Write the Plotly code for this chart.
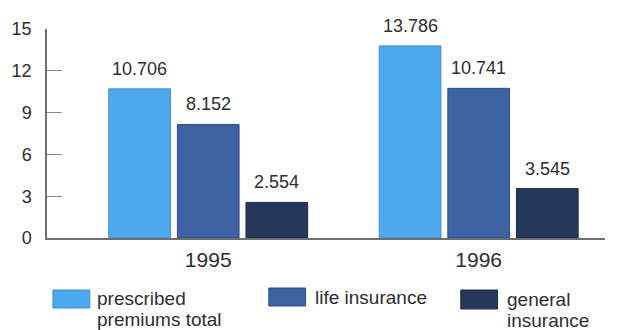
import plotly.graph_objects as go

# Premiums by year (values shown above each bar)
years = ["1995", "1996"]
series_names = ["prescribed premiums total", "life insurance", "general insurance"]
legend_lines = [["prescribed", "premiums total"], ["life insurance"], ["general", "insurance"]]
prescribed_total = [10.706, 13.786]
life_insurance = [8.152, 10.741]
general_insurance = [2.554, 3.545]
y_ticks = [0, 3, 6, 9, 12, 15]

series_values = [prescribed_total, life_insurance, general_insurance]
colors = ["#4ca9ee", "#3c62a2", "#26385a"]
edge_colors = ["#3f8fcc", "#2f4f85", "#1c2a44"]

FONT = "Liberation Sans, Arial, Helvetica, sans-serif"
TEXT = "#2e2e2e"

W, H = 621, 330
L, R, T, B = 44, 16, 29, 92
plot_w = W - L - R
plot_h = H - T - B

BARGAP = 0.239
GROUPGAP = 0.101

fig = go.Figure()
for name, vals, c, ec in zip(series_names, series_values, colors, edge_colors):
    fig.add_trace(go.Bar(
        x=years, y=vals, name=name,
        marker=dict(color=c, line=dict(color=ec, width=1)),
        showlegend=False, hoverinfo="x+y+name",
    ))

# value labels above bars, positioned from the group layout
slot = (1 - BARGAP) / len(series_names)
annotations = []
for j, vals in enumerate(series_values):
    for i, v in enumerate(vals):
        annotations.append(dict(
            x=i + (j - 1) * slot, y=v, xref="x", yref="y",
            text=f"{v:.3f}", showarrow=False, yanchor="bottom",
            yshift=8, font=dict(family=FONT, size=18, color=TEXT),
        ))


def px_x(px):
    return (px - L) / plot_w


def px_y(py):
    return (H - B - py) / plot_h


# legend: swatches and labels below the chart
legend_items = [
    dict(box=(50, 290, 87, 308), tx=92, ty=298),
    dict(box=(267, 288, 304, 306), tx=311, ty=297),
    dict(box=(460, 290, 497, 309), tx=504, ty=299),
]
shapes = []
for item, lines, c, ec in zip(legend_items, legend_lines, colors, edge_colors):
    x0, y0, x1, y1 = item["box"]
    shapes.append(dict(
        type="rect", xref="paper", yref="paper",
        x0=px_x(x0), x1=px_x(x1), y0=px_y(y1), y1=px_y(y0),
        fillcolor=c, line=dict(color=ec, width=1),
    ))
    for k, line in enumerate(lines):
        annotations.append(dict(
            x=px_x(item["tx"]), y=px_y(item["ty"] + k * 21),
            xref="paper", yref="paper", text=line, showarrow=False,
            xanchor="left", yanchor="middle",
            font=dict(family=FONT, size=19, color=TEXT),
        ))

fig.update_layout(
    width=W, height=H,
    margin=dict(l=L, r=R, t=T, b=B, pad=0),
    paper_bgcolor="white", plot_bgcolor="white",
    barmode="group", bargap=BARGAP, bargroupgap=GROUPGAP,
    font=dict(family=FONT, color=TEXT),
    annotations=annotations, shapes=shapes,
    showlegend=False,
)
fig.update_xaxes(
    type="category", range=[-0.596, 1.467],
    showline=True, linecolor="#6e6e6e", linewidth=1.5,
    ticks="", showgrid=False, zeroline=False,
    tickfont=dict(family=FONT, size=21, color=TEXT),
    ticklabelstandoff=2,
)
fig.update_yaxes(
    range=[0, 15], tickvals=y_ticks, ticktext=[str(t) for t in y_ticks],
    showline=True, linecolor="#6e6e6e", linewidth=1.5,
    ticks="inside", ticklen=15, tickcolor="#8a8a8a", tickwidth=1,
    showgrid=False, zeroline=False,
    tickfont=dict(family=FONT, size=18, color=TEXT),
    ticklabelstandoff=10,
)

fig.write_html("out.html")
